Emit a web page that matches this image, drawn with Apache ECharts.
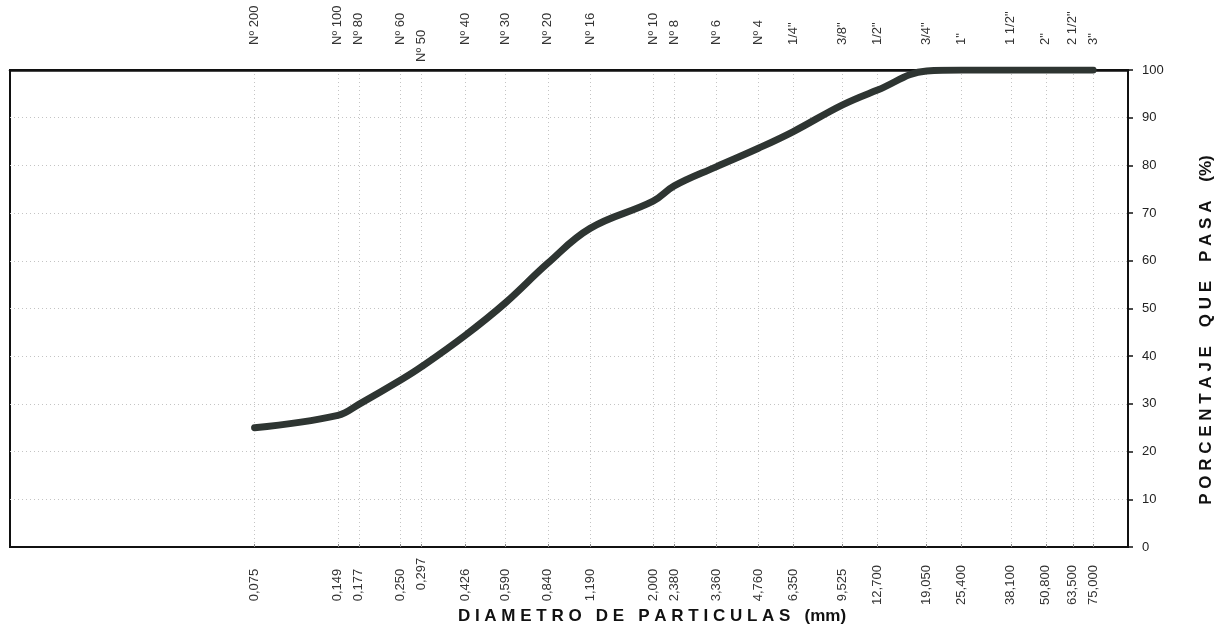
<!DOCTYPE html>
<html>
<head>
<meta charset="utf-8">
<script src="https://cdn.jsdelivr.net/npm/echarts@6/dist/echarts.min.js"></script>
<style>html,body{margin:0;padding:0;background:#fff}#c{width:1218px;height:626px}</style>
</head>
<body>
<div id="c"></div>
<script>
// Sieve openings (mm)
const sizes = [0.075, 0.149, 0.177, 0.250, 0.297, 0.426, 0.590, 0.840, 1.190, 2.000, 2.380, 3.360, 4.760, 6.350, 9.525, 12.700, 19.050, 25.400, 38.100, 50.800, 63.500, 75.000];
// Bottom tick labels
const sizeLabels = ['0,075','0,149','0,177','0,250','0,297','0,426','0,590','0,840','1,190','2,000','2,380','3,360','4,760','6,350','9,525','12,700','19,050','25,400','38,100','50,800','63,500','75,000'];
// Top tick labels (sieve names)
const sieveNames = ['Nº 200','Nº 100','Nº 80','Nº 60','Nº 50','Nº 40','Nº 30','Nº 20','Nº 16','Nº 10','Nº 8','Nº 6','Nº 4','1/4"','3/8"','1/2"','3/4"','1"','1 1/2"','2"','2 1/2"','3"'];
// Percent passing
const passing = [25.0, 27.6, 29.9, 35.0, 37.8, 44.4, 51.1, 59.5, 66.8, 72.5, 75.7, 79.7, 83.6, 87.1, 92.7, 95.8, 99.8, 100, 100, 100, 100, 100];
// Y ticks
const yMin = 0, yMax = 100, yStep = 10;

function idxOf(v){
  let best = 0, bd = Infinity;
  for (let i = 0; i < sizes.length; i++) {
    const d = Math.abs(Math.log(v) - Math.log(sizes[i]));
    if (d < bd) { bd = d; best = i; }
  }
  return best;
}
const FONT = 'Liberation Sans';
const bottomMain = sizes.filter(s => s !== 0.297);
const topMain = sizes.filter(s => s !== 0.297);

const hidden = {axisLine:{show:false}, axisTick:{show:false}, splitLine:{show:false}};
const chart = echarts.init(document.getElementById('c'), null, {renderer:'canvas'});
chart.setOption({
  animation: false,
  backgroundColor: '#fff',
  grid: {left: 10, right: 90, top: 70, bottom: 79, show: true, borderColor: '#111', borderWidth: 2, containLabel: false},
  xAxis: [
    {type:'log', logBase:10, min:0.01, max:100, position:'bottom', gridIndex:0,
     axisLine:{show:true, lineStyle:{color:'#111', width:2}},
     axisTick:{show:true, customValues:sizes, inside:true, length:3, lineStyle:{color:'#888'}},
     splitLine:{show:true, lineStyle:{color:'#c4c4c4', type:[1,3], width:1}},
     minorTick:{show:false}, minorSplitLine:{show:false},
     axisLabel:{customValues:bottomMain, rotate:90, align:'center', margin:38, fontFamily:FONT, fontSize:13, color:'#333',
       formatter: v => sizeLabels[idxOf(v)]}},
    Object.assign({type:'log', logBase:10, min:0.01, max:100, position:'bottom', gridIndex:0,
     axisLabel:{customValues:[0.297], rotate:90, align:'center', margin:27, fontFamily:FONT, fontSize:13, color:'#333',
       formatter: v => sizeLabels[idxOf(v)]}}, hidden),
    {type:'log', logBase:10, min:0.01, max:100, position:'top', gridIndex:0,
     axisLine:{show:true, lineStyle:{color:'#111', width:2.5}},
     axisTick:{show:false}, splitLine:{show:false},
     axisLabel:{customValues:topMain, rotate:-90, margin:25, fontFamily:FONT, fontSize:13, color:'#333',
       formatter: v => sieveNames[idxOf(v)]}},
    Object.assign({type:'log', logBase:10, min:0.01, max:100, position:'top', gridIndex:0,
     axisLabel:{customValues:[0.297], rotate:-90, margin:8, fontFamily:FONT, fontSize:13, color:'#333',
       formatter: v => sieveNames[idxOf(v)]}}, hidden)
  ],
  yAxis: [{
    type:'value', position:'right', min:yMin, max:yMax, interval:yStep,
    axisLine:{show:true, lineStyle:{color:'#111', width:2}},
    axisTick:{show:true, inside:false, length:5, lineStyle:{color:'#111', width:1.5}},
    splitLine:{show:true, lineStyle:{color:'#c4c4c4', type:[1,3], width:1}},
    axisLabel:{fontFamily:FONT, fontSize:13, color:'#222', margin:14}
  }],
  series: [{
    type:'line', xAxisIndex:0, yAxisIndex:0,
    data: sizes.map((s,i) => [s, passing[i]]),
    smooth: 0.4, symbol:'none',
    lineStyle:{color:'#2e3532', width:7, cap:'round', join:'round'}
  }],
  graphic: [
    {type:'text', x:652, y:616, style:{text:'D I A M E T R O   D E   P A R T I C U L A S   (mm)', font:'bold 17px "Liberation Sans"', fill:'#111', align:'center', verticalAlign:'middle'}},
    {type:'text', x:1206, y:330, rotation:Math.PI/2, style:{text:'P O R C E N T A J E    Q U E    P A S A    (%)', font:'bold 17px "Liberation Sans"', fill:'#111', align:'center', verticalAlign:'middle'}}
  ]
});
</script>
</body>
</html>
